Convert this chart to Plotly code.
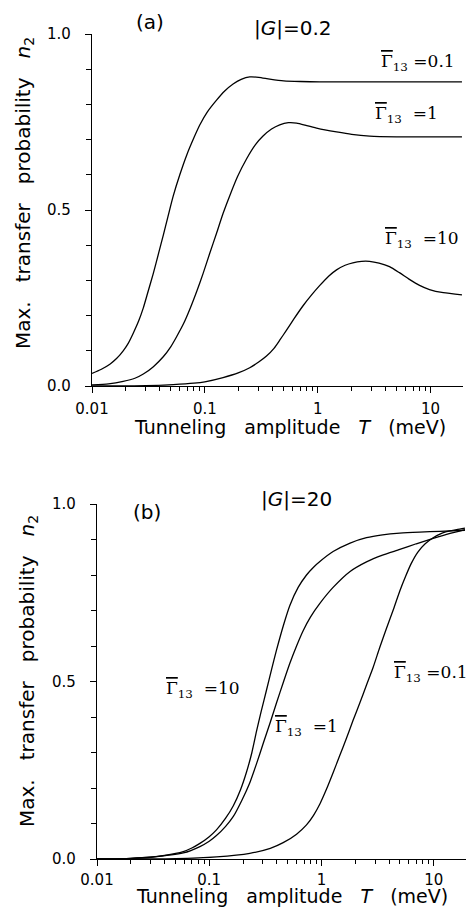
import plotly.graph_objects as go

# ---------------- data ----------------
# Panel (a): |G| = 0.2
a_T_g01 = [0.01, 0.012, 0.0144, 0.0165, 0.0189, 0.021, 0.0232, 0.026, 0.0285, 0.031, 0.0348,
           0.039, 0.0428, 0.047, 0.0525, 0.06, 0.0689, 0.08, 0.0904, 0.105, 0.127, 0.15,
           0.178, 0.21, 0.25, 0.3, 0.376, 0.5, 0.7, 1.04, 2.0, 5.0, 19.0]
a_n_g01 = [0.036, 0.047, 0.062, 0.078, 0.100, 0.122, 0.150, 0.186, 0.222, 0.262, 0.318,
           0.378, 0.428, 0.480, 0.540, 0.600, 0.655, 0.705, 0.742, 0.778, 0.812, 0.838,
           0.858, 0.871, 0.878, 0.877, 0.872, 0.867, 0.865, 0.864, 0.864, 0.864, 0.864]

a_T_g1 = [0.01, 0.014, 0.0189, 0.024, 0.0285, 0.035, 0.0428, 0.05, 0.0562, 0.065, 0.0736,
          0.085, 0.0966, 0.11, 0.127, 0.145, 0.166, 0.195, 0.234, 0.28, 0.328, 0.39, 0.461,
          0.55, 0.65, 0.8, 1.0, 1.47, 2.0, 2.89, 5.0, 19.0]
a_n_g1 = [0.003, 0.006, 0.013, 0.022, 0.034, 0.055, 0.083, 0.112, 0.14, 0.178, 0.218,
          0.27, 0.32, 0.375, 0.434, 0.49, 0.54, 0.595, 0.645, 0.685, 0.71, 0.73, 0.742,
          0.748, 0.747, 0.74, 0.732, 0.722, 0.715, 0.710, 0.708, 0.708]

a_T_g10 = [0.01, 0.03, 0.0525, 0.08, 0.1, 0.145, 0.2, 0.25, 0.3, 0.352, 0.41, 0.461, 0.528,
           0.62, 0.742, 0.88, 1.04, 1.25, 1.47, 1.75, 2.05, 2.45, 2.88, 3.5, 4.33, 5.3,
           6.5, 8.0, 9.8, 13.0, 19.0]
a_n_g10 = [0.0, 0.001, 0.004, 0.008, 0.012, 0.024, 0.038, 0.052, 0.068, 0.085, 0.107, 0.13,
           0.158, 0.192, 0.228, 0.258, 0.285, 0.312, 0.33, 0.343, 0.350, 0.354, 0.354, 0.349,
           0.339, 0.322, 0.303, 0.286, 0.274, 0.265, 0.259]

# Panel (b): |G| = 20
b_T_g10 = [0.01, 0.02, 0.0296, 0.04, 0.0587, 0.07, 0.0826, 0.1, 0.116, 0.14, 0.164, 0.19,
           0.215, 0.24, 0.264, 0.29, 0.324, 0.36, 0.398, 0.46, 0.524, 0.62, 0.736, 0.85,
           0.968, 1.27, 1.8, 2.52, 3.5, 4.99, 7.5, 11.3, 19.0]
b_n_g10 = [0.0, 0.002, 0.005, 0.01, 0.021, 0.031, 0.044, 0.063, 0.082, 0.115, 0.15, 0.195,
           0.245, 0.30, 0.36, 0.415, 0.476, 0.535, 0.589, 0.66, 0.715, 0.765, 0.80, 0.822,
           0.838, 0.866, 0.89, 0.905, 0.913, 0.918, 0.921, 0.923, 0.926]

b_T_g1 = [0.01, 0.02, 0.03, 0.0587, 0.0826, 0.1, 0.116, 0.14, 0.164, 0.195, 0.23, 0.265,
          0.303, 0.35, 0.398, 0.46, 0.524, 0.6, 0.687, 0.8, 0.968, 1.27, 1.8, 2.52, 3.5,
          4.99, 7.0, 9.9, 14.0, 19.0]
b_n_g1 = [0.0, 0.002, 0.005, 0.017, 0.035, 0.05, 0.066, 0.092, 0.12, 0.165, 0.215, 0.27,
          0.326, 0.385, 0.44, 0.50, 0.552, 0.60, 0.643, 0.682, 0.72, 0.765, 0.81, 0.837,
          0.856, 0.872, 0.888, 0.903, 0.917, 0.928]

b_T_g01 = [0.01, 0.05, 0.116, 0.23, 0.35, 0.456, 0.6, 0.736, 0.85, 0.968, 1.11, 1.27, 1.45,
           1.67, 1.91, 2.2, 2.52, 2.89, 3.3, 3.8, 4.4, 4.99, 5.6, 6.3, 7.2, 8.4, 9.9, 11.5,
           13.0, 16.0, 19.0]
b_n_g01 = [0.0, 0.001, 0.006, 0.016, 0.03, 0.046, 0.07, 0.096, 0.123, 0.155, 0.197, 0.243,
           0.29, 0.34, 0.39, 0.44, 0.49, 0.54, 0.595, 0.65, 0.705, 0.755, 0.795, 0.832,
           0.864, 0.888, 0.905, 0.916, 0.922, 0.928, 0.932]

x_major = [0.01, 0.1, 1, 10]
x_major_text = ["0.01", "0.1", "1", "10"]
y_major = [0, 0.5, 1.0]
y_major_text = ["0.0", "0.5", "1.0"]

# ---------------- figure ----------------
# the page body adds an 8px offset; the figure fills the rest of the window
OFF = 8
W, H = 474 - OFF, 909 - OFF
SANS = "DejaVu Sans"
SERIF = "DejaVu Serif"


def fx(px):
    return (px - OFF) / W


def fy(py):
    return 1 - (py - OFF) / H


fig = go.Figure()
line = dict(color="black", width=1.3, shape="spline", smoothing=0.6)
for T, n in [(a_T_g01, a_n_g01), (a_T_g1, a_n_g1), (a_T_g10, a_n_g10)]:
    fig.add_trace(go.Scatter(x=T, y=n, mode="lines", line=line, xaxis="x", yaxis="y",
                             showlegend=False, hoverinfo="skip"))
for T, n in [(b_T_g10, b_n_g10), (b_T_g1, b_n_g1), (b_T_g01, b_n_g01)]:
    fig.add_trace(go.Scatter(x=T, y=n, mode="lines", line=line, xaxis="x2", yaxis="y2",
                             showlegend=False, hoverinfo="skip"))

minor_x = [m * 10 ** e for e in (-2, -1, 0, 1) for m in range(2, 10) if m * 10 ** e <= 20]


def xax(x0, x1, anchor, standoff):
    return dict(type="log", range=[-2, 1.288], domain=[fx(x0), fx(x1)], anchor=anchor,
                automargin=False,
                showline=True, linecolor="black", linewidth=1.2, showgrid=False,
                zeroline=False, ticks="outside", ticklen=6, tickcolor="black", tickwidth=1,
                tickvals=x_major, ticktext=x_major_text, ticklabelstandoff=standoff,
                tickfont=dict(family=SANS, size=15, color="black"),
                minor=dict(ticks="outside", ticklen=4, tickcolor="black", tickvals=minor_x,
                           showgrid=False))


def yax(ytop, ybot, anchor):
    return dict(range=[0, 1], domain=[fy(ybot), fy(ytop)], anchor=anchor,
                automargin=False,
                showline=True, linecolor="black", linewidth=1.2, showgrid=False,
                zeroline=False, ticks="outside", ticklen=6, tickcolor="black",
                tickvals=y_major, ticktext=y_major_text, ticklabelstandoff=11,
                tickfont=dict(family=SANS, size=15, color="black"),
                minor=dict(ticks="outside", ticklen=5, tickcolor="black", dtick=0.1,
                           showgrid=False))


fig.update_layout(
    width=W, height=H, autosize=False,
    margin=dict(l=0, r=0, t=0, b=0, pad=0),
    paper_bgcolor="white", plot_bgcolor="white",
    xaxis=xax(92, 463, "y", 3), yaxis=yax(34, 386, "x"),
    xaxis2=xax(97, 466, "y2", 1), yaxis2=yax(504, 859, "x2"),
)

NB = "\u00a0"
GAP = NB * 3
xtitle = f"Tunneling{GAP}amplitude{GAP}<i>T</i>{GAP}(meV)"
ytitle = f"Max.{GAP}transfer{GAP}probability{GAP}<i>n</i><sub>2</sub>"
G = "<span style='text-decoration:overline'>\u0393</span>"


def ann(x, y, text, size, family=SANS, angle=0):
    fig.add_annotation(x=fx(x), y=fy(y), xref="paper", yref="paper", text=text,
                       showarrow=False, textangle=angle, xanchor="center", yanchor="middle",
                       font=dict(family=family, size=size, color="black"))


# panel (a)
ann(150, 22, "(a)", 20)
ann(293, 28, "|<i>G</i>|=0.2", 20)
ann(418, 62, f"{G}<sub>13</sub> =0.1", 17, SERIF)
ann(406, 114, f"{G}<sub>13</sub>{NB}{NB}=1", 17, SERIF)
ann(422, 239, f"{G}<sub>13</sub>{NB}{NB}=10", 17, SERIF)
ann(290, 427, xtitle, 19)
ann(24, 193, ytitle, 20, angle=-90)

# panel (b)
ann(147, 512, "(b)", 20)
ann(296, 499, "|<i>G</i>|=20", 20)
ann(203, 689, f"{G}<sub>13</sub>{NB}{NB}=10", 17, SERIF)
ann(306, 727, f"{G}<sub>13</sub>{NB}{NB}=1", 17, SERIF)
ann(431, 673, f"{G}<sub>13</sub> =0.1", 17, SERIF)
ann(292, 896, xtitle, 19)
ann(28, 671, ytitle, 20, angle=-90)

fig.write_html("out.html")
